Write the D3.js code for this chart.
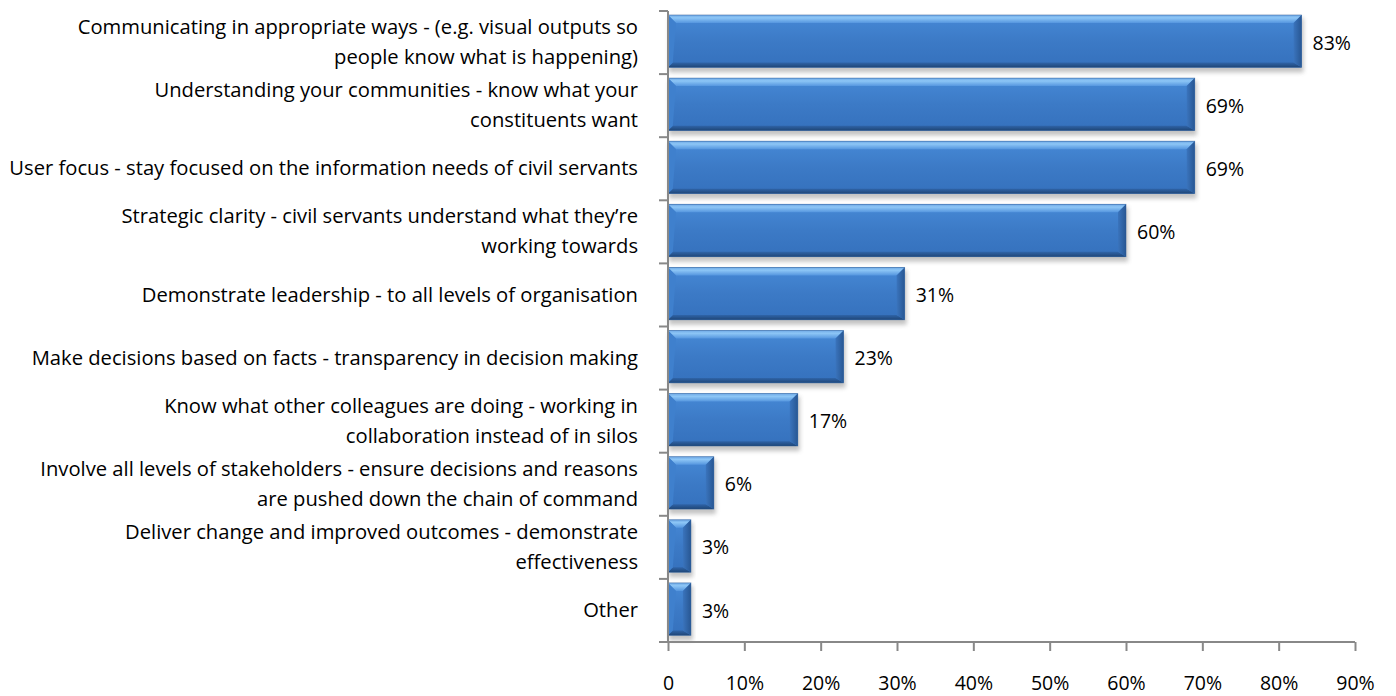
<!DOCTYPE html>
<html>
<head>
<meta charset="utf-8">
<script src="https://cdn.jsdelivr.net/npm/d3@7/dist/d3.min.js"></script>
<style>
  html, body { margin: 0; padding: 0; background: #ffffff; }
  svg { display: block; }
  text { font-family: "Open Sans", Lato, sans-serif; fill: #000; }
</style>
</head>
<body>
<svg id="chart" width="1396" height="696"></svg>
<script>
// Survey responses: share of respondents naming each factor
const categories = [
  ["Communicating in appropriate ways - (e.g. visual outputs so", "people know what is happening)"],
  ["Understanding your communities - know what your", "constituents want"],
  ["User focus - stay focused on the information needs of civil servants"],
  ["Strategic clarity - civil servants understand what they\u2019re", "working towards"],
  ["Demonstrate leadership - to all levels of organisation"],
  ["Make decisions based on facts - transparency in decision making"],
  ["Know what other colleagues are doing - working in", "collaboration instead of in silos"],
  ["Involve all levels of stakeholders - ensure decisions and reasons", "are pushed down the chain of command"],
  ["Deliver change and improved outcomes - demonstrate", "effectiveness"],
  ["Other"]
];
const values = [83, 69, 69, 60, 31, 23, 17, 6, 3, 3];
const xTicks = [0, 10, 20, 30, 40, 50, 60, 70, 80, 90];
const xTickLabels = ["0", "10%", "20%", "30%", "40%", "50%", "60%", "70%", "80%", "90%"];

const svg = d3.select("#chart");
const plotLeft = 668, plotRight = 1355, plotTop = 11, plotBottom = 642;

const x = d3.scaleLinear().domain([0, 90]).range([plotLeft, plotRight]);
const y = d3.scaleBand().domain(d3.range(categories.length)).range([plotTop, plotBottom]).paddingInner(0).paddingOuter(0);
const barH = y.bandwidth() * 0.83;
const barOff = 4;

// Definitions: gradients and shadow blur
const defs = svg.append("defs");
const gTop = defs.append("linearGradient").attr("id", "gTop").attr("x1", 0).attr("y1", 0).attr("x2", 0).attr("y2", 1);
gTop.append("stop").attr("offset", "0%").attr("stop-color", "#6fa9e6");
gTop.append("stop").attr("offset", "35%").attr("stop-color", "#8dc6f6");
gTop.append("stop").attr("offset", "100%").attr("stop-color", "#5596df");
const gBody = defs.append("linearGradient").attr("id", "gBody").attr("x1", 0).attr("y1", 0).attr("x2", 0).attr("y2", 1);
gBody.append("stop").attr("offset", "0%").attr("stop-color", "#4689d6");
gBody.append("stop").attr("offset", "50%").attr("stop-color", "#3c7ac6");
gBody.append("stop").attr("offset", "100%").attr("stop-color", "#3571bd");
const gBot = defs.append("linearGradient").attr("id", "gBot").attr("x1", 0).attr("y1", 0).attr("x2", 0).attr("y2", 1);
gBot.append("stop").attr("offset", "0%").attr("stop-color", "#2f64a8");
gBot.append("stop").attr("offset", "100%").attr("stop-color", "#1f4677");
const gRight = defs.append("linearGradient").attr("id", "gRight").attr("x1", 0).attr("y1", 0).attr("x2", 1).attr("y2", 0);
gRight.append("stop").attr("offset", "0%").attr("stop-color", "#3a74bd");
gRight.append("stop").attr("offset", "100%").attr("stop-color", "#285793");
const blur = defs.append("filter").attr("id", "shadow").attr("x", "-10%").attr("y", "-50%").attr("width", "120%").attr("height", "200%");
blur.append("feGaussianBlur").attr("stdDeviation", 2.2);

// Bars
const bars = svg.append("g").selectAll("g").data(values).join("g");
bars.each(function(v, i) {
  const g = d3.select(this);
  const x0 = x(0), x1 = x(v);
  const y0 = y(i) + barOff, y1 = y0 + barH;
  const b = Math.min(8, (x1 - x0) / 2.2);
  const w = x1 - x0;
  g.append("rect").attr("x", x0 + 1).attr("y", y0 + 3).attr("width", w + 1).attr("height", barH + 2)
    .attr("fill", "#7a7a7a").attr("opacity", 0.45).attr("filter", "url(#shadow)");
  g.append("rect").attr("x", x0).attr("y", y0).attr("width", w).attr("height", barH).attr("fill", "url(#gBody)");
  const pts = a => a.map(p => p.join(",")).join(" ");
  g.append("polygon").attr("points", pts([[x0, y0], [x1, y0], [x1 - b, y0 + b], [x0 + b, y0 + b]])).attr("fill", "url(#gTop)");
  g.append("polygon").attr("points", pts([[x0, y1], [x1, y1], [x1 - b, y1 - b * 0.6], [x0 + b * 0.6, y1 - b * 0.6]])).attr("fill", "url(#gBot)");
  g.append("polygon").attr("points", pts([[x1, y0], [x1, y1], [x1 - b, y1 - b * 0.6], [x1 - b, y0 + b]])).attr("fill", "url(#gRight)");
  g.append("polygon").attr("points", pts([[x0, y0], [x0 + b, y0 + b], [x0 + b * 0.6, y1 - b * 0.6], [x0, y1]])).attr("fill", "#3f80cd");
  g.append("rect").attr("x", x0).attr("y", y0).attr("width", w).attr("height", barH)
    .attr("fill", "none").attr("stroke", "#2a5a96").attr("stroke-width", 0.8).attr("stroke-opacity", 0.6);
});

// Value labels
svg.append("g").selectAll("text").data(values).join("text")
  .attr("x", d => x(d) + 11)
  .attr("y", (d, i) => y(i) + barOff + barH / 2 + 1)
  .attr("dominant-baseline", "central")
  .style("font-size", "19.5px")
  .text(d => d + "%");

// Category labels
const cat = svg.append("g").selectAll("text").data(categories).join("text")
  .attr("text-anchor", "end")
  .style("font-size", "20.2px");
cat.each(function(lines, i) {
  const t = d3.select(this);
  const cy = y(i) + barOff + barH / 2;
  const lh = 30;
  lines.forEach((ln, k) => {
    t.append("tspan").attr("x", 638)
      .attr("y", cy + (k - (lines.length - 1) / 2) * lh)
      .attr("dominant-baseline", "central")
      .text(ln);
  });
});

// Axes
const axisColor = "#888888";
const yAxis = svg.append("g");
yAxis.append("line").attr("x1", plotLeft).attr("x2", plotLeft).attr("y1", plotTop).attr("y2", plotBottom)
  .attr("stroke", axisColor).attr("stroke-width", 2);
yAxis.selectAll("line.tick").data(d3.range(categories.length + 1)).join("line").attr("class", "tick")
  .attr("x1", plotLeft - 9).attr("x2", plotLeft)
  .attr("y1", i => plotTop + i * y.step()).attr("y2", i => plotTop + i * y.step())
  .attr("stroke", axisColor).attr("stroke-width", 2);

const xAxis = svg.append("g").attr("transform", `translate(0,${plotBottom})`)
  .call(d3.axisBottom(x).tickValues(xTicks).tickSize(9).tickPadding(25).tickFormat((d, i) => xTickLabels[i]));
xAxis.select(".domain").attr("stroke", axisColor).attr("stroke-width", 2).attr("d", `M${plotLeft},0H${plotRight}`);
xAxis.selectAll(".tick line").attr("stroke", axisColor).attr("stroke-width", 2);
xAxis.selectAll(".tick text").style("font-size", "19.5px").style("font-family", "'Open Sans', Lato, sans-serif").attr("fill", "#000");
</script>
</body>
</html>
